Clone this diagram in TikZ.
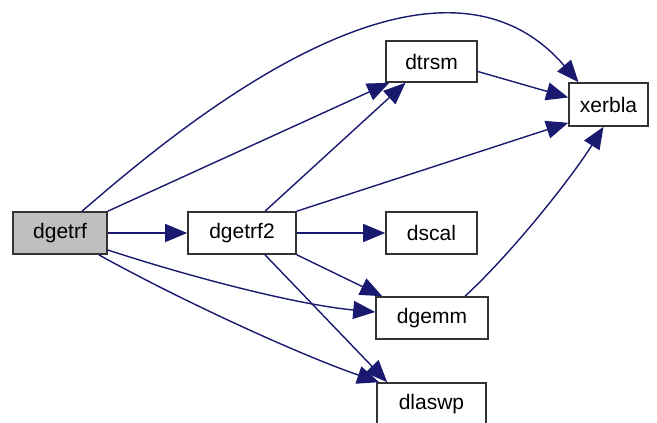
\documentclass[tikz,border=0pt]{standalone}
\usepackage{fontspec}
\setmainfont{Liberation Sans}
\usetikzlibrary{arrows.meta}
\definecolor{edgeblue}{HTML}{191970}
\definecolor{boxgray}{HTML}{BFBFBF}
\definecolor{boxline}{HTML}{333333}
\begin{document}
\begin{tikzpicture}[x=1pt,y=-1pt,
  fn/.style={draw=boxline,line width=1.6pt,fill=white,inner sep=0pt,
    font=\fontsize{21}{25}\selectfont},
  call/.style={draw=edgeblue,line width=1.4pt,
    -{Triangle[length=22pt,width=18pt]}}]
\useasboundingbox (0,0) rectangle (657,423);
\node[fn,fill=boxgray,minimum width=94pt,minimum height=42pt] (dgetrf) at (60,233) {dgetrf};
\node[fn,minimum width=108pt,minimum height=42pt] (dgetrf2) at (242,233) {dgetrf2};
\node[fn,minimum width=91pt,minimum height=41pt] (dtrsm) at (431.5,61.5) {dtrsm};
\node[fn,minimum width=79pt,minimum height=43pt] (xerbla) at (608.5,104.5) {xerbla};
\node[fn,minimum width=91pt,minimum height=42pt] (dscal) at (431.5,233) {dscal};
\node[fn,minimum width=112pt,minimum height=42pt] (dgemm) at (432,318) {dgemm};
\node[fn,minimum width=109pt,minimum height=42pt] (dlaswp) at (431.5,404) {dlaswp};

\draw[call] ([xshift=22pt]dgetrf.north) .. controls (165,140) and (430,-90) .. ([xshift=-30pt]xerbla.north);
\draw[call] (dgetrf.north east) -- ([xshift=4pt]dtrsm.south west);
\draw[call] (dgetrf.east) -- (dgetrf2.west);
\draw[call] ([yshift=-17pt]dgetrf.east) .. controls (200,280) and (300,305) .. ([yshift=6pt]dgemm.west);
\draw[call] ([xshift=-9pt]dgetrf.south east) .. controls (180,300) and (300,355) .. ([xshift=3pt]dlaswp.north west);
\draw[call] ([xshift=23pt]dgetrf2.north) -- ([xshift=-26pt]dtrsm.south);
\draw[call] (dgetrf2.north east) -- ([yshift=4pt]xerbla.south west);
\draw[call] (dgetrf2.east) -- (dscal.west);
\draw[call] (dgetrf2.south east) -- ([xshift=7pt]dgemm.north west);
\draw[call] ([xshift=23pt]dgetrf2.south) -- ([xshift=11pt]dlaswp.north west);
\draw[call] ([xshift=33pt]dgemm.north) .. controls (510,255) and (570,180) .. ([xshift=-5pt]xerbla.south);
\draw[call] ([yshift=-10pt]dtrsm.east) -- ([yshift=7pt]xerbla.west);
\end{tikzpicture}
\end{document}
